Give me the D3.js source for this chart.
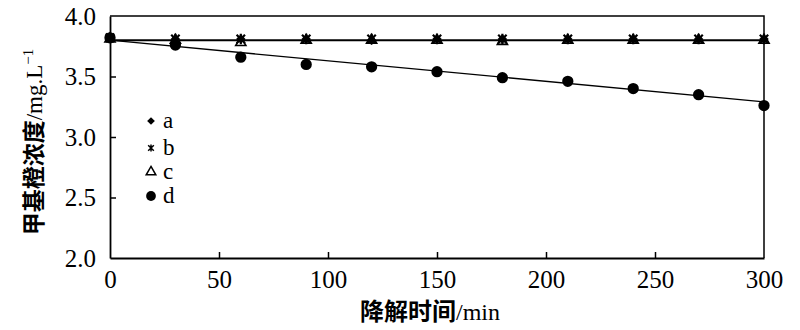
<!DOCTYPE html>
<html>
<head>
<meta charset="utf-8">
<script src="https://cdn.jsdelivr.net/npm/d3@7"></script>
<style>
  body { margin: 0; background: #fff; }
  text { font-family: "Liberation Serif", "Times New Roman", serif; fill: #000; }
  .cjk { font-family: "Noto Sans CJK SC", sans-serif; font-weight: bold; }
</style>
</head>
<body>
<svg id="chart" width="800" height="330"></svg>
<script>
"use strict"

const times = [0, 30, 60, 90, 120, 150, 180, 210, 240, 270, 300]
const seriesA = [3.82, 3.81, 3.81, 3.81, 3.80, 3.81, 3.81, 3.81, 3.81, 3.81, 3.81]
const seriesB = [3.82, 3.81, 3.81, 3.81, 3.81, 3.81, 3.81, 3.81, 3.81, 3.81, 3.81]
const seriesC = [3.81, 3.80, 3.78, 3.80, 3.80, 3.80, 3.79, 3.80, 3.80, 3.80, 3.80]
const seriesD = [3.82, 3.76, 3.66, 3.60, 3.58, 3.54, 3.49, 3.46, 3.40, 3.35, 3.26]
const fitFlat = [3.80, 3.80]
const fitD = [3.80, 3.29]
const fitX = [0, 300]
const xTicks = [0, 50, 100, 150, 200, 250, 300]
const yTicks = [2.0, 2.5, 3.0, 3.5, 4.0]
const legendLabels = ["a", "b", "c", "d"]

const margin = {left: 110, right: 36, top: 16, bottom: 72}
const width = 800, height = 330
const svg = d3.select("#chart")

const x = d3.scaleLinear().domain([0, 300]).range([margin.left, width - margin.right])
const y = d3.scaleLinear().domain([2.0, 4.0]).range([height - margin.bottom, margin.top])

// frame (top and right)
svg.append("path")
    .attr("d", "M" + x(0) + "," + y(4) + "H" + x(300) + "V" + y(2))
    .attr("fill", "none").attr("stroke", "#000").attr("stroke-width", 1.5)

const xAxis = d3.axisBottom(x).tickValues(xTicks).tickSizeInner(-6).tickSizeOuter(0).tickPadding(12)
const yAxis = d3.axisLeft(y).tickValues(yTicks).tickFormat(d3.format(".1f")).tickSizeInner(-6).tickSizeOuter(0).tickPadding(14)

const gx = svg.append("g")
    .attr("transform", "translate(0," + y(2) + ")")
    .call(xAxis)
const gy = svg.append("g")
    .attr("transform", "translate(" + x(0) + ",0)")
    .call(yAxis)

;[gx, gy].forEach(g => {
    g.select(".domain").attr("stroke", "#000").attr("stroke-width", 1.8)
    g.selectAll(".tick line").attr("stroke", "#000").attr("stroke-width", 1.5)
    g.selectAll(".tick text").attr("fill", "#000").style("font-size", "25px")
})
gy.selectAll(".tick").filter(d => d === 2.0 || d === 4.0).select("line").remove()
gx.selectAll(".tick").filter(d => d === 0 || d === 300).select("line").remove()

// fit lines
const line = d3.line().x(d => x(d[0])).y(d => y(d[1]))
svg.append("path")
    .attr("d", line(fitX.map((t, i) => [t, fitFlat[i]])))
    .attr("stroke", "#000").attr("stroke-width", 2).attr("fill", "none")
svg.append("path")
    .attr("d", line(fitX.map((t, i) => [t, fitD[i]])))
    .attr("stroke", "#000").attr("stroke-width", 1.3).attr("fill", "none")

// wide diamond like the reference
const wideDiamond = {
    draw(ctx, size) {
        const r = Math.sqrt(size) / 2
        ctx.moveTo(0, -r)
        ctx.lineTo(r, 0)
        ctx.lineTo(0, r)
        ctx.lineTo(-r, 0)
        ctx.closePath()
    }
}
// x with a vertical bar
const starX = {
    draw(ctx, size) {
        const r = Math.sqrt(size) / 2
        ctx.moveTo(-r * 0.8, -r * 0.8); ctx.lineTo(r * 0.8, r * 0.8)
        ctx.moveTo(r * 0.8, -r * 0.8); ctx.lineTo(-r * 0.8, r * 0.8)
        ctx.moveTo(0, -r); ctx.lineTo(0, r)
    }
}

const symbols = {
    a: {type: wideDiamond, size: 90, fill: "#000", stroke: "none"},
    b: {type: starX, size: 110, fill: "none", stroke: "#000"},
    c: {type: d3.symbolTriangle, size: 45, fill: "#fff", stroke: "#000"},
    d: {type: d3.symbolCircle, size: 100, fill: "#000", stroke: "none"}
}
const series = {a: seriesA, b: seriesB, c: seriesC, d: seriesD}

const drawOrder = ["c", "a", "b", "d"]
drawOrder.forEach(key => {
    const s = symbols[key]
    svg.append("g").selectAll("path")
        .data(series[key].map((v, i) => [times[i], v]))
        .join("path")
        .attr("transform", d => "translate(" + x(d[0]) + "," + y(d[1]) + ")")
        .attr("d", d3.symbol().type(s.type).size(s.size))
        .attr("fill", s.fill)
        .attr("stroke", s.stroke)
        .attr("stroke-width", key === "b" ? 2.2 : 1.6)
})

// legend
const legendY = [121, 148, 172, 196]
const legendSize = {a: 60, b: 50, c: 40, d: 75}
const legend = svg.append("g")
legendLabels.forEach((lab, i) => {
    const s = symbols[lab]
    legend.append("path")
        .attr("transform", "translate(151," + legendY[i] + ")")
        .attr("d", d3.symbol().type(s.type).size(legendSize[lab]))
        .attr("fill", s.fill)
        .attr("stroke", s.stroke)
        .attr("stroke-width", 1.5)
    legend.append("text")
        .attr("x", 163).attr("y", legendY[i] + 7)
        .style("font-size", "23px")
        .text(lab)
})

// axis titles
const xt = svg.append("text")
    .attr("x", 430).attr("y", 320)
    .attr("text-anchor", "middle")
    .style("font-size", "24px")
xt.append("tspan").attr("class", "cjk").text("降解时间")
xt.append("tspan").text("/min")

const yt = svg.append("text")
    .attr("transform", "translate(42,142) rotate(-90)")
    .attr("text-anchor", "middle")
    .style("font-size", "23px")
yt.append("tspan").attr("class", "cjk").text("甲基橙浓度")
yt.append("tspan").text("/mg.L")
yt.append("tspan").attr("dy", -9).style("font-size", "15px").text("−1")
</script>
</body>
</html>
